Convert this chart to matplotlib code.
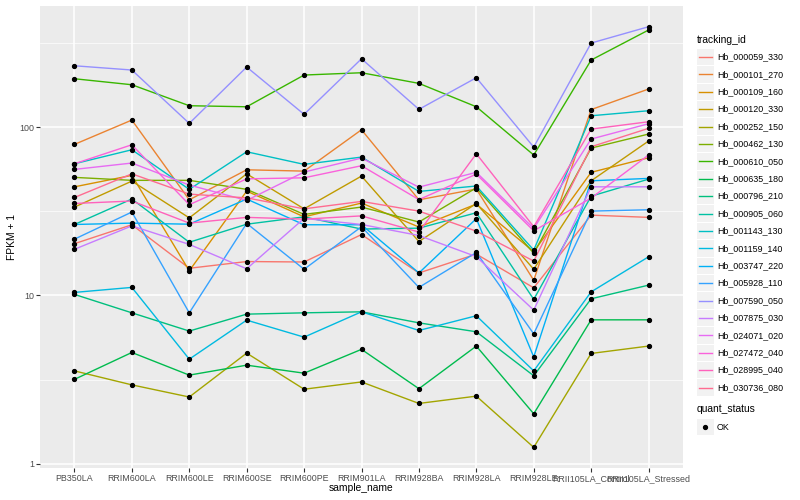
import math
import matplotlib
matplotlib.use("Agg")
import matplotlib.pyplot as plt
from matplotlib.patches import Rectangle
from matplotlib.lines import Line2D

plt.rcParams['font.family'] = ['Liberation Sans', 'DejaVu Sans']

samples = ["PB350LA", "RRIM600LA", "RRIM600LE", "RRIM600SE", "RRIM600PE",
           "RRIM901LA", "RRIM928BA", "RRIM928LA", "RRIM928LE",
           "RRII105LA_Control", "RRII105LA_Stressed"]

tracking_ids = ["Hb_000059_330", "Hb_000101_270", "Hb_000109_160", "Hb_000120_330",
                "Hb_000252_150", "Hb_000462_130", "Hb_000610_050", "Hb_000635_180",
                "Hb_000796_210", "Hb_000905_060", "Hb_001143_130", "Hb_001159_140",
                "Hb_003747_220", "Hb_005928_110", "Hb_007590_050", "Hb_007875_030",
                "Hb_024071_020", "Hb_027472_040", "Hb_028995_040", "Hb_030736_080"]

# ggplot default hue palette, 20 levels
colors = ["#F8766D", "#EA8331", "#D89000", "#C09B00", "#A3A500", "#7CAE00", "#39B600",
          "#00BB4E", "#00BF7D", "#00C1A3", "#00BFC4", "#00BAE0", "#00B0F6", "#35A2FF",
          "#9590FF", "#C77CFF", "#E76BF3", "#FA62DB", "#FF62BC", "#FF6C91"]

# FPKM + 1, one value per sample
hb_000059_330 = [20.3, 26.3, 14.5, 15.9, 15.8, 23.0, 13.6, 17.6, 11.1, 30.0, 29.1]
hb_000101_270 = [79.0, 110.2, 37.0, 55.8, 54.8, 96.5, 37.0, 42.9, 12.3, 127.2, 168.5]
hb_000109_160 = [44.2, 51.7, 14.0, 41.7, 29.3, 35.4, 25.5, 34.9, 18.2, 53.9, 65.8]
hb_000120_330 = [33.5, 47.8, 28.9, 52.8, 32.7, 51.2, 20.9, 35.2, 14.3, 48.0, 82.7]
hb_000252_150 = [3.56, 2.94, 2.49, 4.54, 2.77, 3.06, 2.28, 2.52, 1.25, 4.52, 5.00]
hb_000462_130 = [50.3, 48.3, 48.3, 42.7, 30.3, 33.5, 27.3, 43.6, 17.8, 75.1, 91.0]
hb_000610_050 = [194.0, 178.7, 134.1, 132.2, 204.1, 210.6, 182.1, 132.2, 68.3, 250.6, 377.9]
hb_000635_180 = [3.17, 4.58, 3.36, 3.85, 3.45, 4.78, 2.79, 5.00, 1.98, 7.16, 7.16]
hb_000796_210 = [10.14, 7.88, 6.14, 7.74, 7.88, 7.99, 6.87, 6.08, 3.33, 9.55, 11.51]
hb_000905_060 = [26.4, 37.4, 20.7, 26.5, 29.3, 24.8, 25.1, 31.0, 9.47, 38.9, 49.1]
hb_001143_130 = [60.6, 73.4, 42.7, 71.4, 60.1, 66.4, 41.5, 44.7, 18.6, 116.9, 125.2]
hb_001159_140 = [10.42, 11.16, 4.18, 7.13, 5.65, 7.99, 6.19, 7.57, 3.56, 10.50, 16.96]
hb_003747_220 = [26.4, 26.9, 26.5, 37.4, 26.3, 26.3, 13.6, 28.6, 4.31, 48.0, 49.6]
hb_005928_110 = [21.6, 31.3, 7.88, 26.8, 14.3, 25.6, 11.16, 18.0, 5.91, 31.7, 32.3]
hb_007590_050 = [231.7, 218.6, 105.3, 227.7, 119.2, 255.0, 127.6, 196.7, 76.1, 316.2, 395.3]
hb_007875_030 = [18.8, 25.9, 20.1, 14.4, 28.7, 26.4, 22.7, 17.0, 8.18, 44.2, 44.2]
hb_024071_020 = [56.1, 61.2, 45.3, 36.7, 54.1, 65.5, 44.0, 53.9, 25.0, 85.0, 104.8]
hb_027472_040 = [60.6, 78.6, 34.6, 49.3, 50.0, 59.0, 37.1, 52.6, 24.2, 37.9, 68.3]
hb_028995_040 = [35.2, 36.4, 26.9, 29.1, 28.4, 29.7, 23.8, 69.5, 25.6, 97.4, 107.7]
hb_030736_080 = [38.2, 52.8, 40.0, 38.0, 32.7, 36.2, 31.7, 24.1, 16.0, 76.5, 98.4]

series = [hb_000059_330, hb_000101_270, hb_000109_160, hb_000120_330, hb_000252_150,
          hb_000462_130, hb_000610_050, hb_000635_180, hb_000796_210, hb_000905_060,
          hb_001143_130, hb_001159_140, hb_003747_220, hb_005928_110, hb_007590_050,
          hb_007875_030, hb_024071_020, hb_027472_040, hb_028995_040, hb_030736_080]

W, H = 800, 500
fig = plt.figure(figsize=(8, 5), dpi=100)
ax = fig.add_axes([40 / W, 1 - 468.4 / H, (683 - 40) / W, (468.4 - 5.7) / H])
ax.set_facecolor("#EBEBEB")
for s in ax.spines.values():
    s.set_visible(False)

x = list(range(len(samples)))
for vals, col in zip(series, colors):
    ax.plot(x, vals, color=col, lw=1.0, zorder=3)
for vals in series:
    ax.plot(x, vals, ls="none", marker="o", ms=2.8, color="black", zorder=4)

ax.set_yscale("log")
allv = [v for vals in series for v in vals]
lo, hi = math.log10(min(allv)), math.log10(max(allv))
pad = 0.05 * (hi - lo)
ax.set_ylim(10 ** (lo - pad), 10 ** (hi + pad))
ax.set_xlim(-0.6, len(samples) - 0.4)

ax.set_yticks([1, 10, 100])
ax.set_yticklabels(["1", "10", "100"])
ax.set_yticks([10 ** 0.5, 10 ** 1.5, 10 ** 2.5], minor=True)
ax.set_yticklabels([], minor=True)
ax.set_xticks(x)
ax.set_xticklabels(samples)
ax.tick_params(axis="both", which="major", length=3, width=0.8, color="#333333",
               labelsize=6.4, labelcolor="#4D4D4D", pad=1.0)
ax.tick_params(axis="y", which="minor", length=0)
ax.grid(True, which="major", color="white", lw=1.1, zorder=1)
ax.grid(True, which="minor", axis="y", color="white", lw=0.5, zorder=1)
ax.set_axisbelow(True)

fig.text(361.5 / W, 1 - 488 / H, "sample_name", ha="center", va="center", fontsize=7.4)
fig.text(12 / W, 1 - 237 / H, "FPKM + 1", ha="center", va="center", rotation=90, fontsize=7.4)

# legends drawn by hand, ggplot style
def fx(px):
    return px / W

def fy(py):
    return 1 - py / H

fig.text(fx(697), fy(40), "tracking_id", ha="left", va="center", fontsize=7.4)
step = 17.4
for i, (name, col) in enumerate(zip(tracking_ids, colors)):
    cy = 57 + i * step
    fig.add_artist(Rectangle((fx(697), fy(cy + 8.2)), 16.5 / W, 16.4 / H,
                             transform=fig.transFigure, facecolor="#F2F2F2", edgecolor="none"))
    fig.add_artist(Line2D([fx(698.5), fx(712)], [fy(cy), fy(cy)], transform=fig.transFigure,
                          color=col, lw=1.0))
    fig.text(fx(717), fy(cy), name, ha="left", va="center", fontsize=6.4)

fig.text(fx(697), fy(409), "quant_status", ha="left", va="center", fontsize=7.4)
cy = 427
fig.add_artist(Rectangle((fx(697), fy(cy + 8.2)), 16.5 / W, 16.4 / H,
                         transform=fig.transFigure, facecolor="#F2F2F2", edgecolor="none"))
fig.add_artist(Line2D([fx(705.2)], [fy(cy)], transform=fig.transFigure, ls="none",
                      marker="o", ms=2.8, color="black"))
fig.text(fx(717), fy(cy), "OK", ha="left", va="center", fontsize=6.4)

fig.savefig("out.png", dpi=100)
